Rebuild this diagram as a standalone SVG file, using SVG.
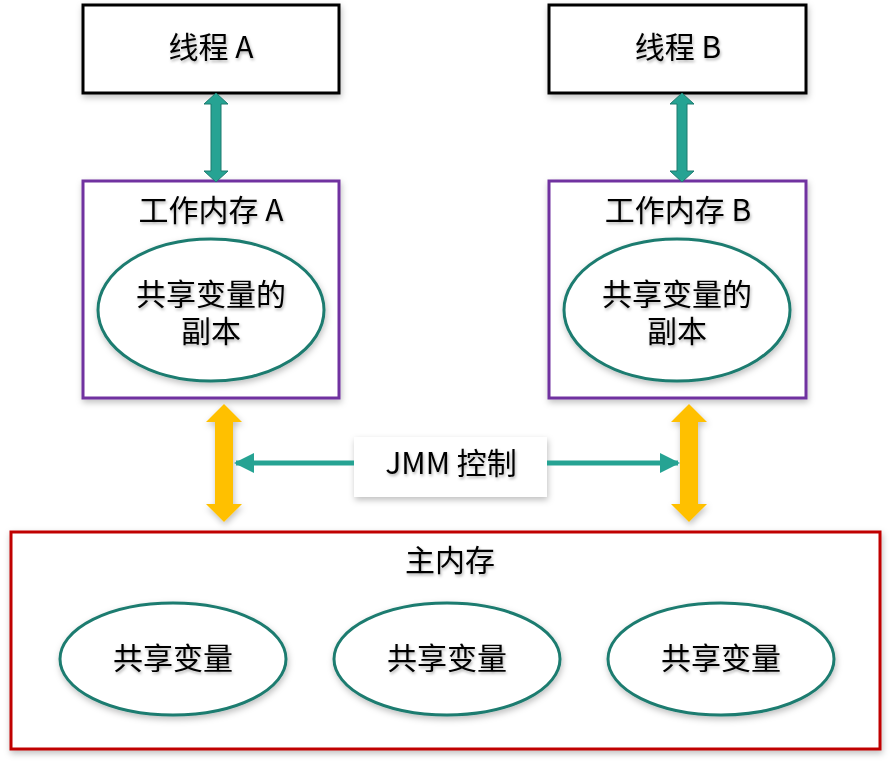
<svg xmlns="http://www.w3.org/2000/svg" width="891" height="766" viewBox="0 0 891 766">
<defs>
<filter id="sh" x="-10%" y="-10%" width="130%" height="130%">
<feDropShadow dx="1" dy="3" stdDeviation="3" flood-color="#000" flood-opacity="0.25"/>
</filter>
<filter id="tsh" x="-10%" y="-20%" width="130%" height="150%">
<feDropShadow dx="1" dy="2" stdDeviation="1.5" flood-color="#000" flood-opacity="0.3"/>
</filter>
<marker id="ah" viewBox="0 0 10 10" refX="9" refY="5" markerWidth="4" markerHeight="4" orient="auto-start-reverse">
<path d="M0,0 L10,5 L0,10 z" fill="#26A393"/>
</marker>
</defs>
<style>
text{font-family:"Noto Sans CJK SC","Noto Sans",sans-serif;font-size:30px;fill:#000;text-anchor:middle;filter:url(#tsh)}
.thr{fill:#fff;stroke:#000;stroke-width:3;filter:url(#sh)}
.wm{fill:#fff;stroke:#7030A0;stroke-width:3;filter:url(#sh)}
.mm{fill:#fff;stroke:#C00000;stroke-width:3;filter:url(#sh)}
.el{fill:#fff;stroke:#1D7B6F;stroke-width:3;filter:url(#sh)}
.ta{fill:#26A393;stroke:#1D7B6F;stroke-width:1}
.ya{fill:#FFC000;filter:url(#sh)}
.ln{stroke:#26A393;stroke-width:5;fill:none}
</style>
<rect width="891" height="766" fill="#fff"/>
<g id="threadA"><rect class="thr" x="83" y="5" width="256" height="88"/><text x="211" y="58">线程 A</text></g>
<g id="threadB"><rect class="thr" x="549" y="5" width="257" height="88"/><text x="678" y="58">线程 B</text></g>
<g id="workA"><rect class="wm" x="83" y="181" width="256" height="217"/><text x="211" y="221">工作内存 A</text>
<ellipse class="el" cx="211" cy="310" rx="113" ry="71"/><text x="211" y="305">共享变量的<tspan x="211" dy="37">副本</tspan></text></g>
<g id="workB"><rect class="wm" x="549" y="181" width="257" height="217"/><text x="678" y="221">工作内存 B</text>
<ellipse class="el" cx="677" cy="310" rx="113" ry="71"/><text x="677" y="305">共享变量的<tspan x="677" dy="37">副本</tspan></text></g>
<g id="main"><rect class="mm" x="11" y="532" width="869" height="217"/><text x="450" y="571">主内存</text>
<ellipse class="el" cx="173" cy="659" rx="113" ry="56"/><text x="173" y="669">共享变量</text>
<ellipse class="el" cx="447" cy="659" rx="113" ry="56"/><text x="447" y="669">共享变量</text>
<ellipse class="el" cx="721" cy="659" rx="113" ry="56"/><text x="721" y="669">共享变量</text></g>
<g id="jmm"><rect x="354" y="437" width="193" height="60" fill="#fff" filter="url(#sh)"/><text x="451" y="474">JMM 控制</text></g>
<g id="connectors">
<path class="ta" d="M216,93 L228,104 L221,104 L221,171 L228,171 L216,182 L204,171 L211,171 L211,104 L204,104 Z"/>
<path class="ta" d="M682,93 L694,104 L687,104 L687,171 L694,171 L682,182 L670,171 L677,171 L677,104 L670,104 Z"/>
<path class="ya" d="M224,404 L242,422 L233,422 L233,504 L242,504 L224,522 L206,504 L215,504 L215,422 L206,422 Z"/>
<path class="ya" d="M689,404 L707,422 L698,422 L698,504 L707,504 L689,522 L671,504 L680,504 L680,422 L671,422 Z"/>
<line class="ln" x1="354" y1="463" x2="236" y2="463" marker-end="url(#ah)"/>
<line class="ln" x1="547" y1="463" x2="678" y2="463" marker-end="url(#ah)"/>
</g>
</svg>
